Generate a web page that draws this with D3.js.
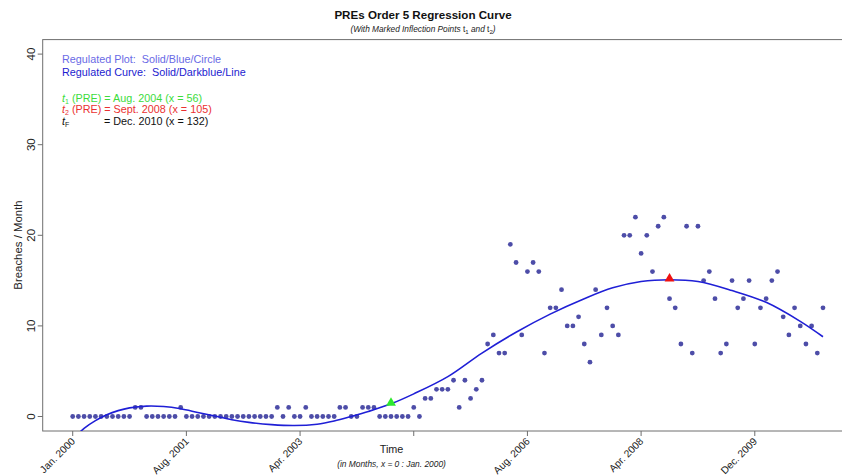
<!DOCTYPE html>
<html lang="en">
<head>
    <meta charset="UTF-8">
    <title>PREs Order 5 Regression Curve</title>
    <style>
        body { margin: 0; background: #fff; }
        svg { display: block; font-family: "Liberation Sans", Arial, sans-serif; }
        svg text { white-space: pre; }
        .frame { fill: none; stroke: #6e6e6e; stroke-width: 1; }
        .tick { stroke: #6e6e6e; }
    </style>
</head>
<body>
    <div class="chart"></div>
    <script src="https://cdn.jsdelivr.net/npm/d3@7"></script>
    <script>
    // breaches per month, x = 0 : Jan. 2000
    var breaches = [
        0,0,0,0,0,0,0,0,0,0,0, 1,1, 0,0,0,0,0,0, 1,
        0,0,0,0,0,0,0,0,0,0,0,0,0,0,0,0, 1,0,1,0,0,1, 0,0,0,0,0, 1,1, 0,0, 1,1,1,
        0,0,0,0,0,0, 1,0, 2,2, 3,3,3, 4,1,4,2,3,4, 8,9,7,7, 19,17,9,16,17,16,7,
        12,12,14,10,10,11,8,6,14,9,12,10,9, 20,20,22,18,20,16,21,22,13,12,8,21,7,21,
        15,16,13,7,8,15,12,13,15,8,12,13,15,16,11,9,12,10,8,10,7,12
    ];

    // regression curve (month, value)
    var curveMonths = [0, 1, 2, 4, 6, 8, 10, 13, 16, 19, 22, 25, 28, 31, 35, 39, 43, 46, 49, 52, 56, 60, 66, 72, 78, 84, 90, 95, 100, 105, 110, 116, 122, 128, 132];
    var curveValues = [-2.6, -1.9, -1.3, -0.45, 0.2, 0.65, 0.95, 1.15, 1.1, 0.85, 0.45, 0.05, -0.35, -0.65, -0.9, -1.0, -0.85, -0.5, 0.0, 0.55, 1.4, 2.5, 4.4, 7.0, 9.3, 11.3, 13.0, 14.2, 14.9, 15.1, 14.9, 13.9, 12.6, 10.5, 8.8];

    var inflections = [
        {month: 56, value: 1.4, color: "#2ee82e"},
        {month: 105, value: 15.1, color: "#ee1111"}
    ];

    var xTicks = [0, 20, 40, 60, 80, 100, 120];
    var xTickLabels = ["Jan. 2000", "Aug. 2001", "Apr. 2003", "", "Aug. 2006", "Apr. 2008", "Dec. 2009"];
    var yTicks = [0, 10, 20, 30, 40];

    var width = 842, height = 475;

    var svg = d3.select(".chart").append("svg")
        .attr("width", width)
        .attr("height", height);

    var x = d3.scaleLinear().domain([-5.28, 137.28]).range([42.7, 853]);
    var y = d3.scaleLinear().domain([-1.6, 41.6]).range([431, 39.6]);

    svg.append("clipPath").attr("id", "plot-clip")
        .append("rect")
        .attr("x", x.range()[0]).attr("y", y.range()[1])
        .attr("width", x.range()[1] - x.range()[0])
        .attr("height", y.range()[0] - y.range()[1]);

    // frame
    svg.append("rect")
        .attr("class", "frame")
        .attr("x", x.range()[0]).attr("y", y.range()[1])
        .attr("width", x.range()[1] - x.range()[0])
        .attr("height", y.range()[0] - y.range()[1]);

    // y axis
    var yAxis = svg.append("g");
    yAxis.selectAll("line").data(yTicks).enter().append("line")
        .attr("class", "tick")
        .attr("x1", x.range()[0] - 5).attr("x2", x.range()[0])
        .attr("y1", function(d) { return y(d); })
        .attr("y2", function(d) { return y(d); });
    yAxis.selectAll("text").data(yTicks).enter().append("text")
        .attr("transform", function(d) { return "translate(35," + y(d) + ") rotate(-90)"; })
        .attr("text-anchor", "middle")
        .style("font-size", "11.5px")
        .style("fill", "#222")
        .text(function(d) { return d; });

    svg.append("text")
        .attr("transform", "translate(22,245) rotate(-90)")
        .attr("text-anchor", "middle")
        .style("font-size", "11.4px")
        .style("fill", "#222")
        .text("Breaches / Month");

    // x axis
    var xAxis = svg.append("g");
    xAxis.selectAll("line").data(xTicks).enter().append("line")
        .attr("class", "tick")
        .attr("x1", function(d) { return x(d); })
        .attr("x2", function(d) { return x(d); })
        .attr("y1", y.range()[0]).attr("y2", y.range()[0] + 5);
    xAxis.selectAll("text").data(xTicks).enter().append("text")
        .attr("transform", function(d) { return "translate(" + (x(d) + 3) + "," + (y.range()[0] + 11) + ") rotate(-45)"; })
        .attr("text-anchor", "end")
        .style("font-size", "10.2px")
        .style("fill", "#222")
        .text(function(d, i) { return xTickLabels[i]; });

    svg.append("text")
        .attr("x", 391.5).attr("y", 453)
        .attr("text-anchor", "middle")
        .style("font-size", "10.8px")
        .style("fill", "#222")
        .text("Time");
    svg.append("text")
        .attr("x", 391.5).attr("y", 466.5)
        .attr("text-anchor", "middle")
        .style("font-size", "8.4px")
        .style("font-style", "italic")
        .style("fill", "#222")
        .text("(in Months, x = 0 : Jan. 2000)");

    // title
    svg.append("text")
        .attr("x", 423).attr("y", 19)
        .attr("text-anchor", "middle")
        .style("font-size", "11.6px")
        .style("font-weight", "bold")
        .style("fill", "#111")
        .text("PREs Order 5 Regression Curve");
    var sub = svg.append("text")
        .attr("x", 423).attr("y", 32)
        .attr("text-anchor", "middle")
        .style("font-size", "8.3px")
        .style("fill", "#222");
    sub.append("tspan").style("font-style", "italic").text("(With Marked Inflection Points ");
    sub.append("tspan").text("t");
    sub.append("tspan").attr("dy", 2).style("font-size", "6px").text("1");
    sub.append("tspan").attr("dy", -2).style("font-style", "italic").text(" and ");
    sub.append("tspan").text("t");
    sub.append("tspan").attr("dy", 2).style("font-size", "6px").text("2");
    sub.append("tspan").attr("dy", -2).style("font-style", "italic").text(")");

    // points
    var plot = svg.append("g").attr("clip-path", "url(#plot-clip)");
    plot.selectAll("circle").data(breaches).enter().append("circle")
        .attr("cx", function(d, i) { return x(i); })
        .attr("cy", function(d) { return y(d); })
        .attr("r", 2.4)
        .style("fill", "#4d4da8");

    // regression curve
    var line = d3.line()
        .x(function(d) { return x(d[0]); })
        .y(function(d) { return y(d[1]); })
        .curve(d3.curveCatmullRom);
    plot.append("path")
        .datum(d3.zip(curveMonths, curveValues))
        .attr("d", line)
        .style("fill", "none")
        .style("stroke", "#1f1fd6")
        .style("stroke-width", 1.6);

    // inflection markers
    plot.selectAll("path.marker").data(inflections).enter().append("path")
        .attr("class", "marker")
        .attr("transform", function(d) { return "translate(" + x(d.month) + "," + (y(d.value) - 1) + ")"; })
        .attr("d", d3.symbol().type(d3.symbolTriangle).size(42))
        .style("fill", function(d) { return d.color; });

    // legend
    var legend = svg.append("g").style("font-size", "10.8px");
    legend.append("text").attr("x", 62).attr("y", 63).style("fill", "#6a6ae6")
        .text("Regulated Plot:  Solid/Blue/Circle");
    legend.append("text").attr("x", 62).attr("y", 75.5).style("fill", "#1c1cd0")
        .text("Regulated Curve:  Solid/Darkblue/Line");

    var t1 = legend.append("text").attr("x", 62).attr("y", 101.5).style("fill", "#3cdc3c");
    t1.append("tspan").style("font-style", "italic").text("t");
    t1.append("tspan").attr("dy", 2).style("font-size", "7px").text("1");
    t1.append("tspan").attr("dy", -2).text(" (PRE) = Aug. 2004 (x = 56)");

    var t2 = legend.append("text").attr("x", 62).attr("y", 113).style("fill", "#ea3030");
    t2.append("tspan").style("font-style", "italic").text("t");
    t2.append("tspan").attr("dy", 2).style("font-size", "7px").text("2");
    t2.append("tspan").attr("dy", -2).text(" (PRE) = Sept. 2008 (x = 105)");

    var tf = legend.append("g").style("fill", "#111");
    var tfl = tf.append("text").attr("x", 62).attr("y", 124.5);
    tfl.append("tspan").style("font-style", "italic").text("t");
    tfl.append("tspan").attr("dy", 2).style("font-size", "7px").text("F");
    tf.append("text").attr("x", 104).attr("y", 124.5).text("= Dec. 2010 (x = 132)");
    </script>
</body>
</html>
